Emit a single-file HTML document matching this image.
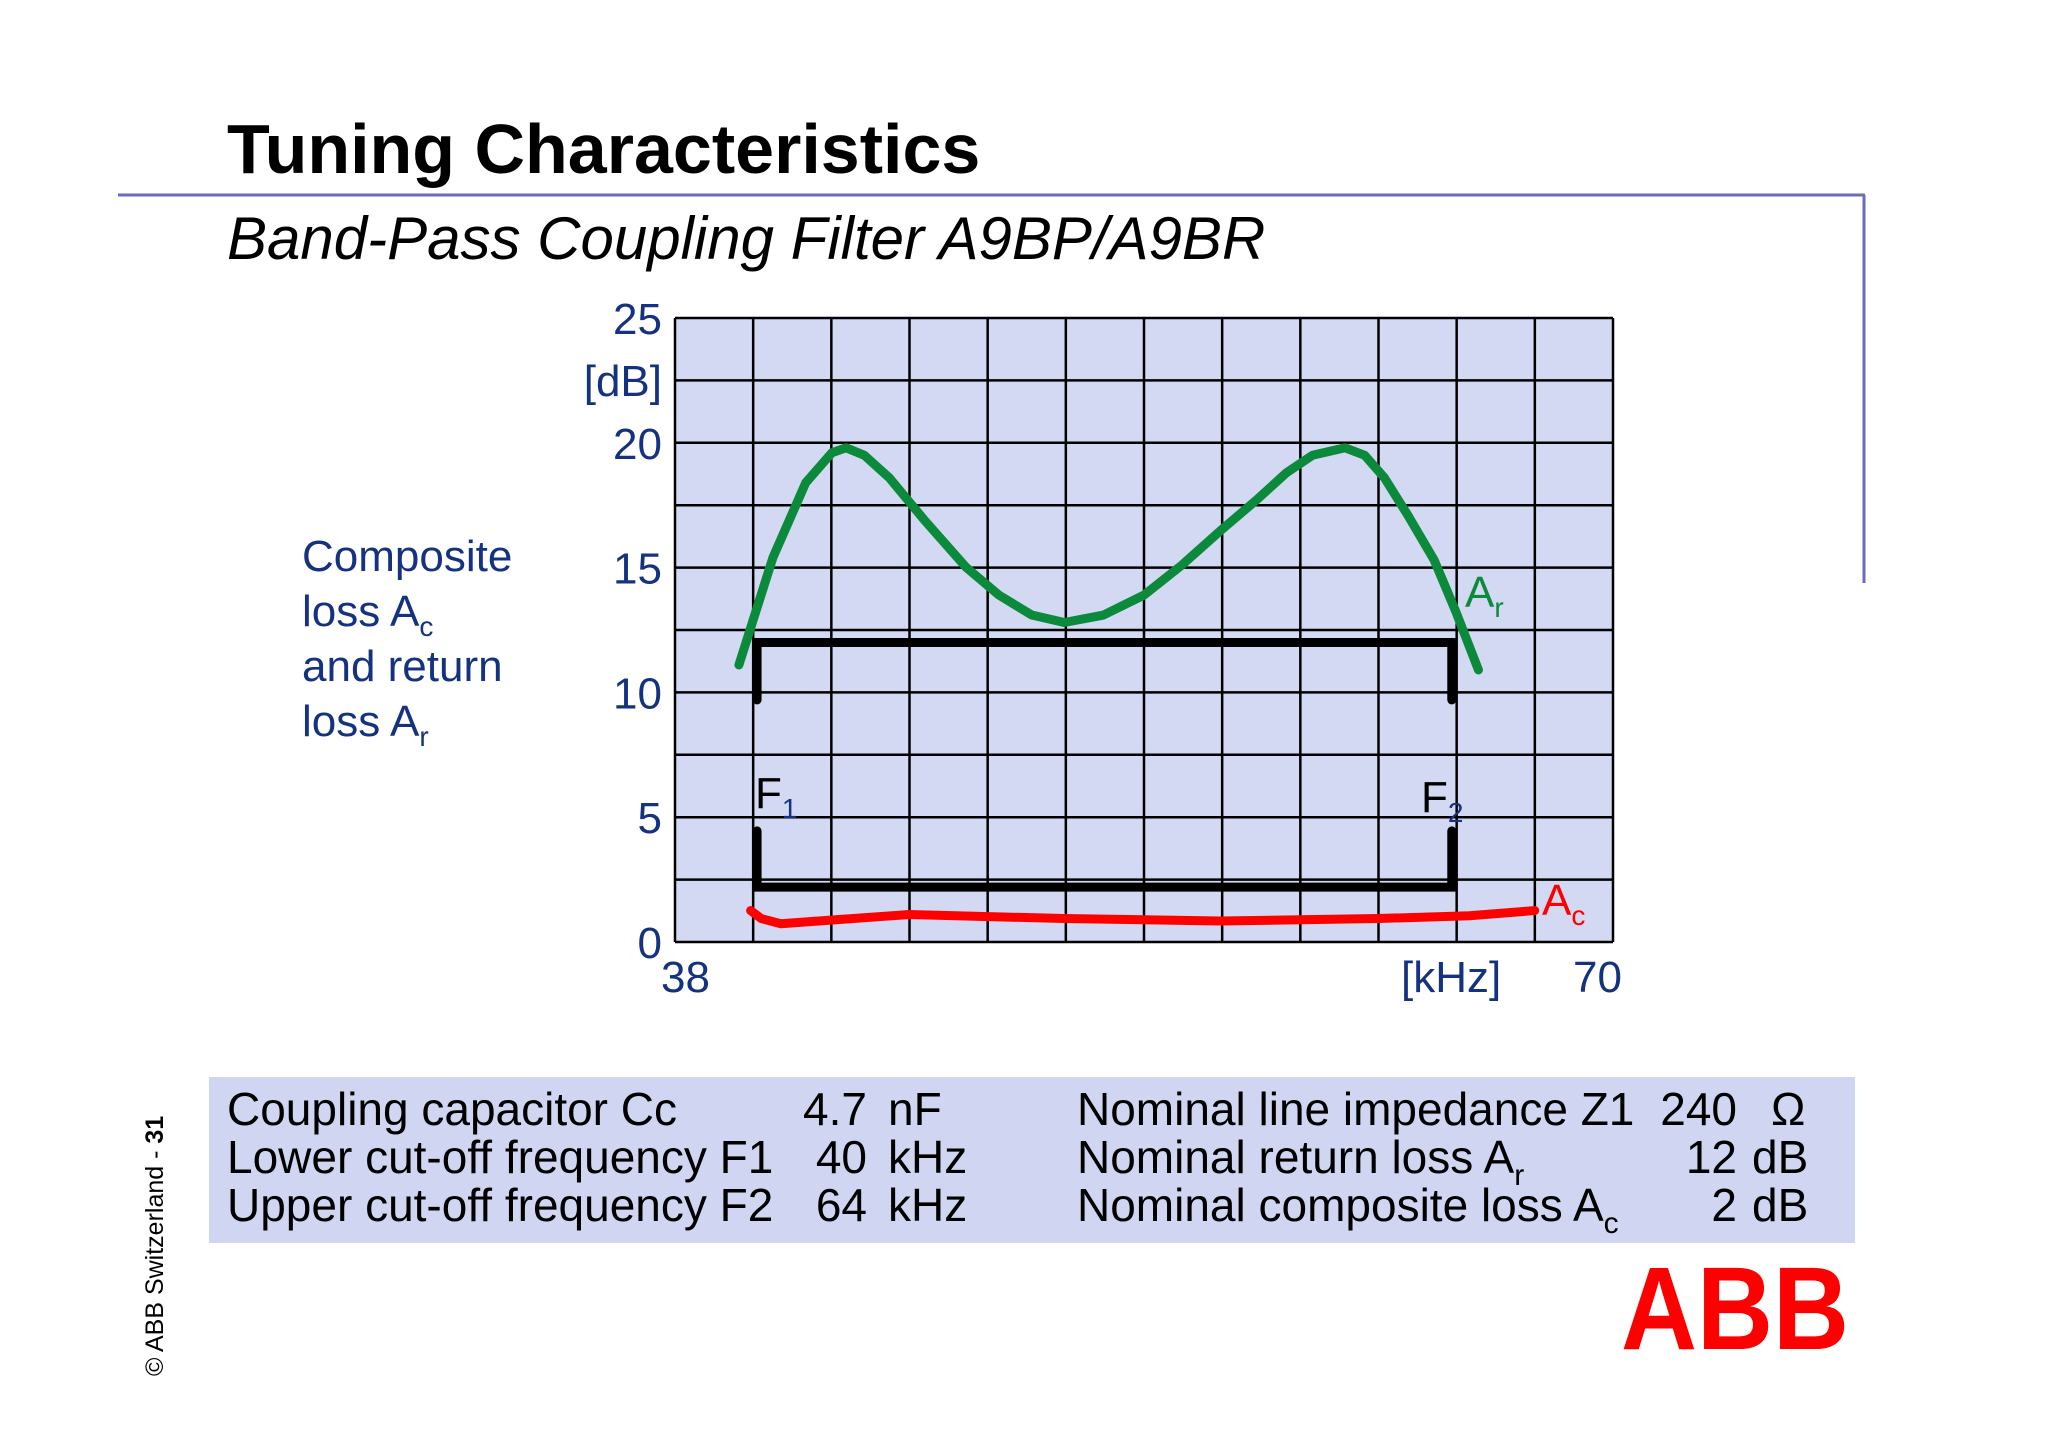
<!DOCTYPE html>
<html><head><meta charset="utf-8"><style>
html,body{margin:0;padding:0;background:#fff;}
svg{display:block;font-family:"Liberation Sans",Arial,sans-serif;}
</style></head><body>
<svg id="slide" width="2048" height="1447" viewBox="0 0 2048 1447" xmlns="http://www.w3.org/2000/svg">
<text x="227" y="173" font-size="70" font-weight="bold" fill="#000">Tuning Characteristics</text>
<line x1="118" y1="195" x2="1865" y2="195" stroke="#6b6bbf" stroke-width="3"/>
<line x1="1864" y1="195" x2="1864" y2="583" stroke="#6b6bbf" stroke-width="3"/>
<text x="227" y="259" font-size="60" font-style="italic" fill="#000">Band-Pass Coupling Filter A9BP/A9BR</text>

<g fill="#14327f" font-size="44">
<text x="302" y="571">Composite</text>
<text x="302" y="626">loss A<tspan font-size="28" dy="10">c</tspan></text>
<text x="302" y="681">and return</text>
<text x="302" y="736">loss A<tspan font-size="28" dy="10">r</tspan></text>
</g>

<rect x="675" y="318" width="938" height="624" fill="#d3d9f2"/>
<g id="grid"></g>
<g id="marks"></g>
<g id="labels" fill="#14327f" font-size="44"></g>

<rect x="209" y="1077" width="1646" height="166" fill="#d0d6f1"/>
<g font-size="46" fill="#000">
<text x="227" y="1125">Coupling capacitor Cc</text>
<text x="227" y="1173">Lower cut-off frequency F1</text>
<text x="227" y="1221">Upper cut-off frequency F2</text>
<text x="867" y="1125" text-anchor="end">4.7</text>
<text x="867" y="1173" text-anchor="end">40</text>
<text x="867" y="1221" text-anchor="end">64</text>
<text x="888" y="1125">nF</text>
<text x="888" y="1173">kHz</text>
<text x="888" y="1221">kHz</text>
<text x="1077" y="1125">Nominal line impedance Z1</text>
<text x="1077" y="1173">Nominal return loss A<tspan font-size="30" dy="12">r</tspan></text>
<text x="1077" y="1221">Nominal composite loss A<tspan font-size="30" dy="12">c</tspan></text>
<text x="1737" y="1125" text-anchor="end">240</text>
<text x="1737" y="1173" text-anchor="end">12</text>
<text x="1737" y="1221" text-anchor="end">2</text>
<text x="1771" y="1125">Ω</text>
<text x="1752" y="1173">dB</text>
<text x="1752" y="1221">dB</text>
</g>
<text x="1621" y="1349" font-size="118" font-weight="bold" fill="#ff0000" textLength="228" lengthAdjust="spacingAndGlyphs">ABB</text>
<text transform="translate(163,1376) rotate(-90)" font-size="25" fill="#000">© ABB Switzerland - <tspan font-weight="bold">31</tspan></text>
</svg>
<script>
const freqAr = [40.18,40.72,41.34,42.46,43.35,43.84,44.46,45.31,46.51,47.94,49.05,50.17,51.28,52.62,54.0,55.29,56.63,57.83,58.86,59.75,60.86,61.53,62.2,63.0,63.9,64.65,65.41];
const lossAr = [11.1,13.1,15.4,18.4,19.6,19.8,19.5,18.6,16.9,15.0,13.9,13.1,12.8,13.1,13.9,15.1,16.5,17.7,18.8,19.5,19.8,19.5,18.6,17.1,15.3,13.2,10.9];
const freqAc = [40.58,40.94,41.61,43.48,45.98,51.28,56.63,61.98,65.1,67.33];
const lossAc = [1.26,0.94,0.73,0.89,1.10,0.94,0.84,0.94,1.05,1.26];
const cutoffs = [40.8,64.5];
const nominalAr = [12,9.7];
const nominalAc = [2.2,4.45];
const yTicks = [0,5,10,15,20,25];
const xTickLabels = ["38","70"];
const xMin=38,xMax=70,yMin=0,yMax=25;
const L=675,R=1613,T=318,B=942;
const X=f=>L+(f-xMin)/(xMax-xMin)*(R-L);
const Y=v=>B-(v-yMin)/(yMax-yMin)*(B-T);
const NS="http://www.w3.org/2000/svg";
function mk(tag,attrs,parent){const e=document.createElementNS(NS,tag);for(const k in attrs)e.setAttribute(k,attrs[k]);parent.appendChild(e);return e;}
const grid=document.getElementById('grid'),marks=document.getElementById('marks'),labels=document.getElementById('labels');
for(let i=0;i<=12;i++){const x=X(xMin+i*(xMax-xMin)/12);const l=mk('line',{x1:x,y1:T,x2:x,y2:B,stroke:'#000','stroke-width':2.5},grid);

}
for(let v=0;v<=25;v+=2.5){const y=Y(v);const l=mk('line',{x1:L,y1:y,x2:R,y2:y,stroke:'#000','stroke-width':2.5},grid);

}
yTicks.forEach(v=>{const t=mk('text',{x:662,y:Y(v)+16,'text-anchor':'end'},labels);t.textContent=v;

});
let t=mk('text',{x:662,y:396,'text-anchor':'end'},labels);t.textContent='[dB]';


t=mk('text',{x:661,y:992},labels);t.textContent=xTickLabels[0];


t=mk('text',{x:1622,y:992,'text-anchor':'end'},labels);t.textContent=xTickLabels[1];


t=mk('text',{x:1401,y:992},labels);t.textContent='[kHz]';


const [f1,f2]=cutoffs;
let p=mk('path',{d:`M${X(f1)},${Y(nominalAr[1])} L${X(f1)},${Y(nominalAr[0])} L${X(f2)},${Y(nominalAr[0])} L${X(f2)},${Y(nominalAr[1])}`,fill:'none',stroke:'#000','stroke-width':9,'stroke-linecap':'round','stroke-linejoin':'miter'},marks);


p=mk('path',{d:`M${X(f1)},${Y(nominalAc[1])} L${X(f1)},${Y(nominalAc[0])} L${X(f2)},${Y(nominalAc[0])} L${X(f2)},${Y(nominalAc[1])}`,fill:'none',stroke:'#000','stroke-width':9,'stroke-linecap':'round','stroke-linejoin':'miter'},marks);


p=mk('polyline',{points:freqAr.map((f,i)=>X(f)+','+Y(lossAr[i])).join(' '),fill:'none',stroke:'#0b8a3c','stroke-width':9,'stroke-linecap':'round','stroke-linejoin':'round'},marks);


p=mk('polyline',{points:freqAc.map((f,i)=>X(f)+','+Y(lossAc[i])).join(' '),fill:'none',stroke:'#ff0000','stroke-width':9,'stroke-linecap':'round','stroke-linejoin':'round'},marks);


function lab(x,y,main,sub,c1,c2,name){const e=mk('text',{x:x,y:y,'font-size':44,fill:c1},labels);e.textContent=main;
const s=mk('tspan',{'font-size':28,dy:10,fill:c2},e);s.textContent=sub;

}
lab(1465,607,'A','r','#0b8a3c','#0b8a3c','ar-label');
lab(1542,915,'A','c','#ff0000','#ff0000','ac-label');
lab(755,808,'F','1','#000','#14327f','f1-label');
lab(1421,812,'F','2','#000','#14327f','f2-label');
</script>
</body></html>
